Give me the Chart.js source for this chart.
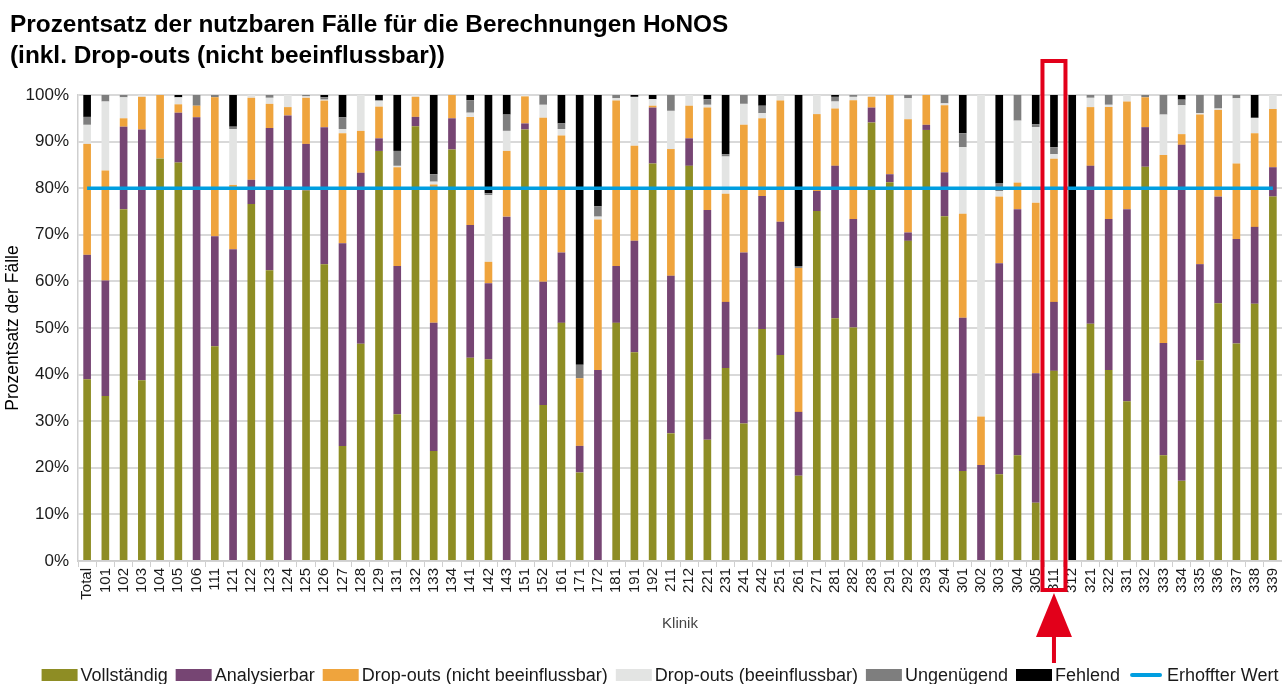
<!DOCTYPE html>
<html><head><meta charset="utf-8">
<script src="https://cdn.jsdelivr.net/npm/chart.js@4.4.1/dist/chart.umd.min.js"></script>
<style>html,body{margin:0;padding:0;background:#fff;overflow:hidden}#wrap{width:1282px;height:684px;position:relative}</style>
</head><body><div id="wrap"><canvas id="c" width="1282" height="684"></canvas></div>
<script>
const titleLines = ['Prozentsatz der nutzbaren Fälle für die Berechnungen HoNOS', '(inkl. Drop-outs (nicht beeinflussbar))'];
const categories = ['Total','101','102','103','104','105','106','111','121','122','123','124','125','126','127','128','129','131','132','133','134','141','142','143','151','152','161','171','172','181','191','192','211','212','221','231','241','242','251','261','271','281','282','283','291','292','293','294','301','302','303','304','305','311','312','321','322','331','332','333','334','335','336','337','338','339'];
const vollstaendig = [39.0,35.4,75.5,38.8,86.4,85.5,0,46.1,0,76.6,62.4,0,79.5,63.7,24.7,46.6,88.0,31.5,93.3,23.6,88.3,43.6,43.3,0,92.6,33.5,51.1,19.0,0,51.1,44.8,85.3,27.4,84.8,26.0,41.4,29.5,49.8,44.2,18.3,75.1,52.1,50.1,94.1,81.3,68.7,92.5,74.0,19.3,0,18.6,22.7,12.5,40.8,0,50.9,41.0,34.3,84.6,22.7,17.2,43.1,55.3,46.7,55.2,78.2];
const analysierbar = [26.7,24.8,17.7,53.8,0,10.7,95.2,23.6,66.9,5.2,30.5,95.6,10.0,29.4,43.5,36.7,2.7,31.8,2.0,27.5,6.7,28.5,16.3,73.9,1.3,26.4,15.1,5.7,41.0,12.2,23.9,12.0,33.8,5.9,49.3,14.2,36.7,28.5,28.6,13.7,4.3,32.7,23.3,3.2,1.7,1.8,1.1,9.4,32.9,20.6,45.3,52.8,27.8,14.8,0,33.9,32.4,41.2,8.5,24.1,72.1,20.6,22.9,22.4,16.5,6.3];
const dropoutsNicht = [23.8,23.6,1.8,7.0,13.6,1.8,2.5,29.8,13.8,17.6,5.2,1.8,9.9,5.7,23.6,9.0,6.8,21.2,4.3,29.7,5.0,23.2,4.6,14.1,5.8,35.2,25.1,14.5,32.3,35.5,20.4,0.4,27.2,7.0,22.0,23.2,27.4,16.7,26.0,30.9,16.5,12.3,25.5,2.3,17.0,24.3,6.4,14.4,22.3,10.4,14.3,5.7,36.6,30.7,0,12.6,24.0,23.1,6.4,40.3,2.3,32.1,18.6,16.2,20.1,12.5];
const dropoutsBeein = [4.1,14.8,4.5,0.4,0,1.5,0,0,12.0,0.6,1.3,2.6,0.3,0.2,0.9,7.7,1.3,0.3,0.4,0.6,0,0.9,14.3,4.3,0.3,2.8,1.4,0,0.6,0.5,10.5,1.4,8.2,2.3,0.6,8.0,4.5,1.1,1.2,0,4.1,1.5,0.7,0.4,0,4.5,0,0.4,14.3,69.0,1.2,13.3,16.2,1.0,0,2.0,0.5,1.4,0,8.7,6.2,0.3,0.3,14.0,3.3,3.0];
const ungenuegend = [1.7,1.4,0.5,0,0,0,2.3,0.5,0.5,0,0.6,0,0.3,0.5,2.5,0,0,3.2,0,1.6,0,2.7,0.4,3.5,0,2.1,1.2,2.9,2.2,0.7,0,0,3.4,0,1.2,0.5,1.9,1.6,0,0.4,0,1.0,0.4,0,0,0.7,0,1.8,3.0,0,1.6,5.5,0.6,1.5,0,0.6,2.1,0,0.5,4.2,1.2,3.9,2.9,0.7,0,0];
const fehlend = [4.7,0,0,0,0,0.5,0,0,6.8,0,0,0,0,0.5,4.8,0,1.2,12.0,0,17.0,0,1.1,21.1,4.2,0,0,6.1,57.9,23.9,0,0.4,0.9,0,0,0.9,12.7,0,2.3,0,36.7,0,0.4,0,0,0,0,0,0,8.2,0,19.0,0,6.3,11.2,100,0,0,0,0,0,1.4,0,0,0,4.9,0];
const zielwert = 80;
const yTickValues = [0,10,20,30,40,50,60,70,80,90,100];
const highlighted = '311';

const FONT = "'Liberation Sans', Arial, sans-serif";

function bar(label, data, color){
  return {type:'bar', label, data, backgroundColor: color, borderWidth: 0, order: 1, stack: 's',
          barPercentage: 0.42, categoryPercentage: 1.0};
}
const datasets = [
  bar('Vollständig', vollstaendig, '#8e8d24'),
  bar('Analysierbar', analysierbar, '#764573'),
  bar('Drop-outs (nicht beeinflussbar)', dropoutsNicht, '#efa43d'),
  bar('Drop-outs (beeinflussbar)', dropoutsBeein, '#e3e4e3'),
  bar('Ungenügend', ungenuegend, '#7e7e7e'),
  bar('Fehlend', fehlend, '#000000'),
  {type:'line', label:'Erhoffter Wert', data: categories.map(() => zielwert), borderColor:'#009ee0',
   backgroundColor:'#009ee0', borderWidth: 3.5, pointRadius: 0, order: 0, stack: 'z', isLine: true}
];

const decor = {
  id: 'decor',
  afterDraw(chart){
    const ctx = chart.ctx;
    ctx.save();
    // title
    ctx.fillStyle = '#000';
    ctx.font = "bold 24.4px " + FONT;
    ctx.textBaseline = 'alphabetic';
    ctx.textAlign = 'left';
    ctx.fillText(titleLines[0], 10, 32);
    ctx.fillText(titleLines[1], 10, 63);
    // legend
    ctx.font = "18px " + FONT;
    ctx.textBaseline = 'middle';
    const boxW = 36, boxH = 12, gapText = 3, gapItem = 8, yMid = 675;
    const items = chart.data.datasets;
    let total = 0;
    items.forEach((d, i) => { total += boxW + gapText + ctx.measureText(d.label).width + (i < items.length-1 ? gapItem : 0); });
    let x = 660 - total/2;
    items.forEach(d => {
      if (d.isLine) {
        ctx.strokeStyle = d.borderColor; ctx.lineWidth = 4; ctx.lineCap = 'round';
        ctx.beginPath(); ctx.moveTo(x + 4, yMid); ctx.lineTo(x + boxW - 4, yMid); ctx.stroke();
      } else {
        ctx.fillStyle = d.backgroundColor; ctx.fillRect(x, yMid - boxH/2, boxW, boxH);
      }
      x += boxW + gapText;
      ctx.fillStyle = '#1a1a1a';
      ctx.fillText(d.label, x, yMid + 1);
      x += ctx.measureText(d.label).width + gapItem;
    });
    // highlight annotation
    const xs = chart.scales.x.getPixelForValue(categories.indexOf(highlighted));
    ctx.strokeStyle = '#e2001a'; ctx.fillStyle = '#e2001a'; ctx.lineWidth = 4; ctx.lineCap = 'butt';
    ctx.strokeRect(xs - 11.5, 61, 23, 529);
    ctx.beginPath(); ctx.moveTo(xs, 593); ctx.lineTo(xs - 18, 637); ctx.lineTo(xs + 18, 637); ctx.closePath(); ctx.fill();
    ctx.fillRect(xs - 2, 635, 4, 28);
    ctx.restore();
  }
};

new Chart(document.getElementById('c'), {
  data: { labels: categories, datasets },
  options: {
    responsive: false, animation: false,
    layout: { padding: { top: 95, right: 0, left: 0, bottom: 48 } },
    plugins: { legend: { display: false }, title: { display: false }, tooltip: { enabled: false } },
    scales: {
      x: {
        stacked: true,
        afterFit(s){ s.height = 75; s.paddingLeft = 0; s.paddingRight = 0; },
        grid: { drawOnChartArea: false, drawTicks: true, tickLength: 6, color: '#cfcfcf', offset: true },
        border: { color: '#cfcfcf', width: 1.5 },
        ticks: { autoSkip: false, minRotation: 90, maxRotation: 90, padding: 1, color: '#1a1a1a', font: { family: FONT, size: 15 } },
        title: { display: true, text: 'Klinik', color: '#444', font: { family: FONT, size: 15 }, padding: { top: 2, bottom: 3 } }
      },
      y: {
        stacked: true, min: 0, max: 100,
        afterFit(s){ s.width = 78; s.paddingTop = 0; s.paddingBottom = 0; },
        afterBuildTicks(s){ s.ticks = yTickValues.map(v => ({ value: v })); },
        grid: { color: '#d9d9d9', lineWidth: 2, drawTicks: false },
        border: { display: true, color: '#cfcfcf', width: 1.5 },
        ticks: { padding: 9, color: '#1a1a1a', font: { family: FONT, size: 17 }, callback: v => v + '%' },
        title: { display: true, text: 'Prozentsatz der Fälle', color: '#000', font: { family: FONT, size: 17.5 }, padding: { top: 3, bottom: 0 } }
      }
    }
  },
  plugins: [decor]
});
</script>
</body></html>
